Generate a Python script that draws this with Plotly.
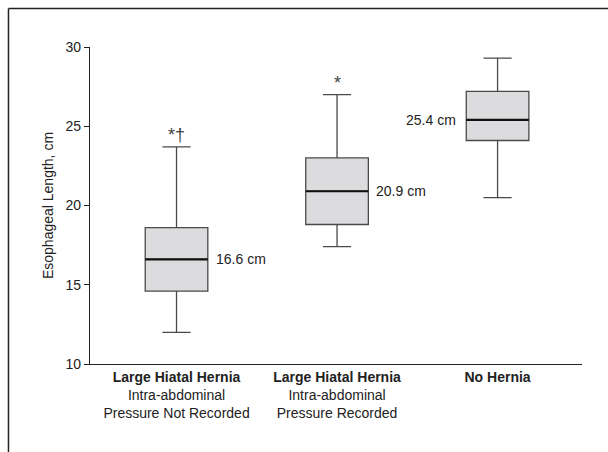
import plotly.graph_objects as go

# ---- data ----
groups = ["Large Hiatal Hernia", "Large Hiatal Hernia", "No Hernia"]
subtitles = ["Intra-abdominal<br>Pressure Not Recorded", "Intra-abdominal<br>Pressure Recorded", ""]
positions = [0, 1, 2]
lower_whisker = [12.0, 17.4, 20.5]
q1 = [14.6, 18.8, 24.1]
median = [16.6, 20.9, 25.4]
q3 = [18.6, 23.0, 27.2]
upper_whisker = [23.7, 27.0, 29.3]
median_labels = ["16.6 cm", "20.9 cm", "25.4 cm"]
significance = ["*†", "*", ""]
y_ticks = [10, 15, 20, 25, 30]

FONT = "Liberation Sans Narrow, Arial Narrow, Liberation Sans, Arial, sans-serif"
BOX_W = 0.39

fig = go.Figure()
for i, p in enumerate(positions):
    fig.add_trace(go.Box(
        x=[p], q1=[q1[i]], median=[median[i]], q3=[q3[i]],
        lowerfence=[lower_whisker[i]], upperfence=[upper_whisker[i]],
        width=BOX_W, whiskerwidth=0.45,
        fillcolor="#dcdcde", line=dict(color="#4a4a4a", width=1.3),
        boxpoints=False, showlegend=False, hoverinfo="skip",
    ))
    # emphasised median line
    fig.add_trace(go.Scatter(
        x=[p - BOX_W / 2, p + BOX_W / 2], y=[median[i], median[i]],
        mode="lines", line=dict(color="#111111", width=2.2),
        showlegend=False, hoverinfo="skip",
    ))

annotations = []
for i, p in enumerate(positions):
    if i < 2:
        annotations.append(dict(x=p + BOX_W / 2, y=median[i], text=median_labels[i],
                                xanchor="left", yanchor="middle", showarrow=False,
                                xshift=6, font=dict(size=14, color="#222")))
    else:
        annotations.append(dict(x=p - BOX_W / 2, y=median[i], text=median_labels[i],
                                xanchor="right", yanchor="middle", showarrow=False,
                                xshift=-8, font=dict(size=14, color="#222")))
    if significance[i]:
        annotations.append(dict(x=p, y=upper_whisker[i], text=significance[i],
                                xanchor="center", yanchor="bottom", showarrow=False,
                                yshift=0, font=dict(size=18, color="#444")))

ticktext = []
for g, s in zip(groups, subtitles):
    t = "<b>" + g + "</b>"
    if s:
        t += "<br>" + s
    ticktext.append(t)

fig.update_layout(
    width=608, height=452,
    margin=dict(l=90, r=26, t=47, b=88),
    paper_bgcolor="white", plot_bgcolor="white",
    font=dict(family=FONT, size=14, color="#222"),
    annotations=annotations,
    xaxis=dict(range=[-0.539, 2.526], tickvals=positions, ticktext=ticktext,
               showgrid=False, zeroline=False, showline=True, linecolor="#222",
               linewidth=1.3, ticks="", tickfont=dict(size=14, color="#222")),
    yaxis=dict(range=[10, 30], tickvals=y_ticks, showgrid=False, zeroline=False,
               showline=True, linecolor="#222", linewidth=1.3, ticks="outside",
               ticklen=5, tickcolor="#222", tickfont=dict(size=14, color="#222"),
               title=dict(text="Esophageal Length, cm", standoff=8,
                          font=dict(size=14, color="#222"))),
    shapes=[
        dict(type="line", xref="paper", yref="paper", x0=-0.1657, x1=1.06,
             y0=1.1215, y1=1.1215, line=dict(color="#222", width=1.5)),
        dict(type="line", xref="paper", yref="paper", x0=-0.1657, x1=-0.1657,
             y0=1.1215, y1=-0.3, line=dict(color="#222", width=1.5)),
    ],
)

fig.write_html("out.html", config={"displayModeBar": False},
               post_script="document.body.style.margin='0';document.body.style.overflow='hidden';")
